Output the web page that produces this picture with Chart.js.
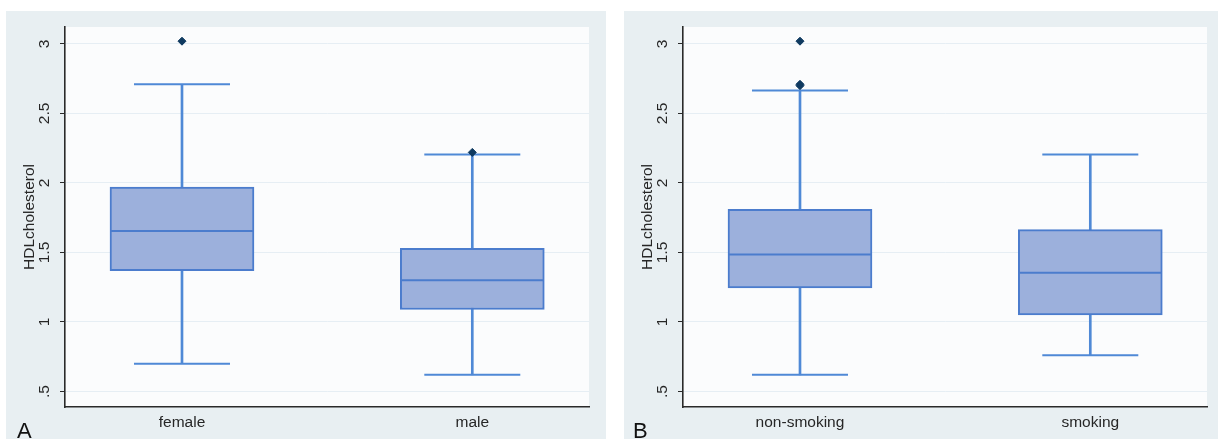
<!DOCTYPE html>
<html>
<head>
<meta charset="utf-8">
<script src="https://cdn.jsdelivr.net/npm/chart.js@4/dist/chart.umd.min.js"></script>
<style>
  html, body { margin: 0; padding: 0; background: #ffffff; }
  body { width: 1223px; height: 439px; position: relative; overflow: hidden; }
  .panel { position: absolute; top: 11px; height: 428px; background: #e8eff2; }
  #panelA { left: 6px; width: 600px; }
  #panelB { left: 624px; width: 594px; }
  .tag { position: absolute; top: 420px; font: 22px "Liberation Sans", Arial, sans-serif; line-height: 22px; color: #111; }
</style>
</head>
<body>
<div class="panel" id="panelA"><canvas id="chartA"></canvas></div>
<div class="panel" id="panelB"><canvas id="chartB"></canvas></div>
<div class="tag" style="left:17px">A</div>
<div class="tag" style="left:633px">B</div>
<script>
// y axis
const yTicks = [0.5, 1, 1.5, 2, 2.5, 3];
const yTickLabels = ['.5', '1', '1.5', '2', '2.5', '3'];

// panel A: by sex
const groupsA = ['female', 'male'];
const lowA = [0.70, 0.62];
const q1A = [1.37, 1.09];
const medA = [1.655, 1.30];
const q3A = [1.97, 1.53];
const highA = [2.71, 2.205];
const outliersA = [[3.02], [2.22]];

// panel B: by smoking
const groupsB = ['non-smoking', 'smoking'];
const lowB = [0.62, 0.76];
const q1B = [1.245, 1.05];
const medB = [1.485, 1.355];
const q3B = [1.81, 1.665];
const highB = [2.665, 2.205];
const outliersB = [[3.02, 2.71, 2.70], []];

Chart.defaults.font.family = '"Liberation Sans", Arial, sans-serif';
Chart.defaults.font.size = 15.5;
Chart.defaults.color = '#262626';

const plotBg = {
  id: 'plotBg',
  beforeDraw(chart) {
    const a = chart.chartArea;
    chart.ctx.save();
    chart.ctx.fillStyle = '#fbfcfd';
    chart.ctx.fillRect(a.left, a.top, a.right - a.left, a.bottom - a.top);
    chart.ctx.restore();
  }
};

function boxChart(id, groups, low, q1, med, q3, high, outliers, rightPad) {
  const boxFill = '#9cb0dc';
  const boxLine = '#4b7ccd';
  const whisker = '#4f89d6';
  const outlierPts = [];
  outliers.forEach((list, i) => list.forEach(v => outlierPts.push({ x: i + 1, y: v })));

  new Chart(document.getElementById(id), {
    type: 'bar',
    data: {
      datasets: [
        {
          data: groups.map((g, i) => ({ x: i + 1, y: [low[i], high[i]] })),
          backgroundColor: whisker, barThickness: 2, grouped: false, order: 5
        },
        {
          data: groups.map((g, i) => ({ x: i + 1, y: [q1[i], q3[i]] })),
          backgroundColor: boxFill, borderColor: boxLine, borderWidth: 2,
          borderSkipped: false, barThickness: 144, grouped: false, order: 4
        },
        {
          type: 'scatter',
          data: groups.map((g, i) => ({ x: i + 1, y: med[i] })),
          pointStyle: 'line', pointRadius: 71, borderColor: boxLine, borderWidth: 2, order: 3
        },
        {
          type: 'scatter',
          data: groups.flatMap((g, i) => [{ x: i + 1, y: low[i] }, { x: i + 1, y: high[i] }]),
          pointStyle: 'line', pointRadius: 48, borderColor: whisker, borderWidth: 2, order: 3
        },
        {
          type: 'scatter',
          data: outlierPts,
          pointStyle: 'rectRot', pointRadius: 4,
          backgroundColor: '#0f3a60', borderColor: '#0f3a60', order: 1
        }
      ]
    },
    options: {
      responsive: true,
      maintainAspectRatio: false,
      animation: false,
      events: [],
      layout: { autoPadding: false, padding: { top: 16, right: rightPad, bottom: 0, left: 0 } },
      plugins: { legend: { display: false }, tooltip: { enabled: false } },
      scales: {
        x: {
          type: 'linear', min: 0.597, max: 2.402, offset: false,
          grid: { display: false, offset: false },
          border: { display: true, color: '#2a2a2a', width: 1.6 },
          afterBuildTicks: axis => { axis.ticks = groups.map((g, i) => ({ value: i + 1 })); },
          afterFit: axis => { axis.height = 32; },
          ticks: { padding: -2, maxRotation: 0, callback: (v, i) => groups[i] }
        },
        y: {
          type: 'linear', min: 0.3885, max: 3.122,
          grid: { color: '#e6eef4', lineWidth: 1, tickLength: 5, tickColor: '#2a2a2a' },
          border: { display: true, color: '#2a2a2a', width: 1.6 },
          afterBuildTicks: axis => { axis.ticks = yTicks.map(v => ({ value: v })); },
          afterFit: axis => { axis.width = 59; },
          ticks: {
            minRotation: 90, maxRotation: 90, crossAlign: 'center', padding: 5,
            callback: (v, i) => yTickLabels[i]
          },
          title: { display: true, text: 'HDLcholesterol', padding: { top: 14, bottom: 0 } }
        }
      }
    },
    plugins: [plotBg]
  });
}

boxChart('chartA', groupsA, lowA, q1A, medA, q3A, highA, outliersA, 17);
boxChart('chartB', groupsB, lowB, q1B, medB, q3B, highB, outliersB, 11);
</script>
</body>
</html>
